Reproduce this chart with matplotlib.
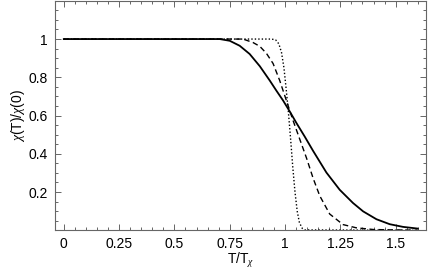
import numpy as np
import matplotlib
matplotlib.use('Agg')
import matplotlib.pyplot as plt
from matplotlib.ticker import MultipleLocator, FixedLocator

plt.rcParams['font.family'] = ['Liberation Sans', 'DejaVu Sans']
plt.rcParams['mathtext.fontset'] = 'custom'
plt.rcParams['mathtext.it'] = 'Liberation Serif:italic'

# solid curve
x_solid = [0.0, 0.705, 0.75, 0.795, 0.84, 0.886, 0.931, 0.961, 0.991, 1.021,
           1.051, 1.089, 1.127, 1.187, 1.247, 1.307, 1.353, 1.413, 1.473,
           1.533, 1.60]
y_solid = [1.0, 1.0, 0.991, 0.965, 0.922, 0.858, 0.783, 0.730, 0.679, 0.622,
           0.562, 0.490, 0.415, 0.302, 0.212, 0.143, 0.099, 0.058, 0.032,
           0.018, 0.009]

# dashed curve
x_dash = [0.0, 0.81, 0.855, 0.886, 0.916, 0.946, 0.976, 1.006, 1.036, 1.066,
          1.097, 1.127, 1.157, 1.202, 1.262, 1.322, 1.40, 1.60]
y_dash = [1.0, 1.0, 0.982, 0.962, 0.925, 0.872, 0.783, 0.679, 0.575, 0.478,
          0.378, 0.272, 0.180, 0.085, 0.030, 0.013, 0.004, 0.0]

# dotted curve
x_dot = [0.0, 0.94, 0.958, 0.972, 0.984, 0.995, 1.005, 1.015, 1.025, 1.035,
         1.045, 1.055, 1.065, 1.078, 1.09, 1.60]
y_dot = [1.0, 1.0, 0.995, 0.975, 0.930, 0.850, 0.740, 0.620, 0.480, 0.330,
         0.200, 0.100, 0.040, 0.010, 0.002, 0.0]

fig = plt.figure(figsize=(4.36, 2.70), dpi=100)
ax = fig.add_axes([0.126, 0.147, 0.850, 0.850])

ax.plot(x_solid, y_solid, color='black', lw=1.3, linestyle='-')
ax.plot(x_dash, y_dash, color='black', lw=1.0, linestyle=(0, (4, 2.5)))
ax.plot(x_dot, y_dot, color='black', lw=1.0, linestyle=(0, (1, 1.5)))

ax.set_xlim(-0.04, 1.635)
ax.set_ylim(0, 1.2)

ax.xaxis.set_major_locator(FixedLocator([0, 0.25, 0.5, 0.75, 1, 1.25, 1.5]))
ax.set_xticklabels(['0', '0.25', '0.5', '0.75', '1', '1.25', '1.5'])
ax.xaxis.set_minor_locator(MultipleLocator(0.05))
ax.yaxis.set_major_locator(FixedLocator([0.2, 0.4, 0.6, 0.8, 1]))
ax.set_yticklabels(['0.2', '0.4', '0.6', '0.8', '1'])
ax.yaxis.set_minor_locator(MultipleLocator(0.05))

ax.tick_params(which='both', direction='in', top=True, right=True,
               color='#666666', labelsize=10, width=0.7)
ax.tick_params(which='major', length=4)
ax.tick_params(which='minor', length=2)
ax.tick_params(axis='x', which='major', pad=5)
ax.tick_params(axis='y', which='major', pad=5)
for s in ax.spines.values():
    s.set_color('#666666')
    s.set_linewidth(0.8)

ax.set_xlabel(r'T/T$_{\chi}$', fontsize=10)
ax.xaxis.set_label_coords(0.5, -0.088)
ax.set_ylabel(r'$\chi$(T)/$\chi$(0)', fontsize=10, labelpad=1)

fig.savefig('out.png', dpi=100)
